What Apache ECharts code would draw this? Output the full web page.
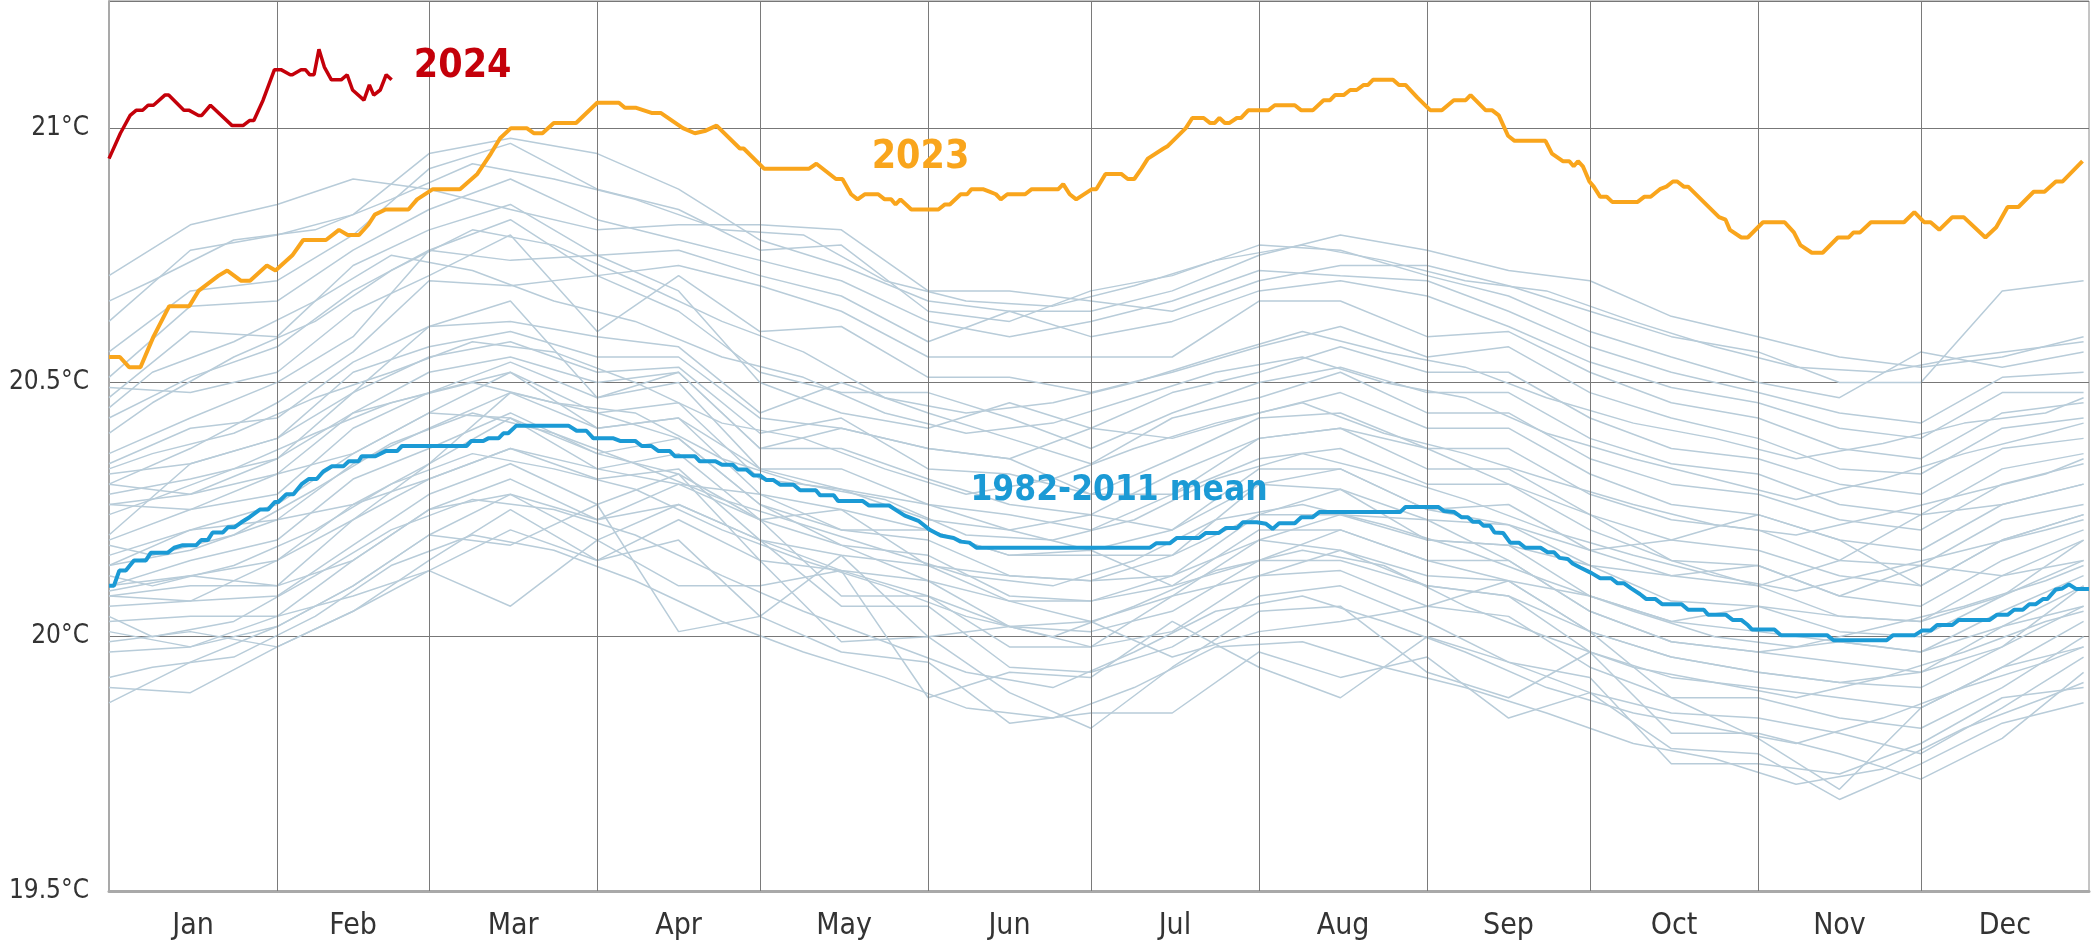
<!DOCTYPE html>
<html><head><meta charset="utf-8">
<script src="https://cdn.jsdelivr.net/npm/echarts@6/dist/echarts.min.js"></script>
<style>html,body{margin:0;padding:0;background:#fff}#c{width:2092px;height:943px}</style>
</head><body><div id="c"></div>
<script>
// ---------- axis definitions ----------
const MONTH_NAMES = ['Jan','Feb','Mar','Apr','May','Jun','Jul','Aug','Sep','Oct','Nov','Dec'];
const MONTH_STARTS = [0,31,59,90,120,151,181,212,243,273,304,334,365];
const MONTH_MIDS = [15.5,45,74.5,105,135.5,166,196.5,227.5,258,288.5,319,349.5];
const Y_TICKS = [19.5,20,20.5,21];

// ---------- gray lines (individual years), sampled at these days ----------
const GRAY_DAYS = [0,15,31,45,59,74,90,105,120,135,151,166,181,196,212,227,243,258,273,288,304,319,334,349,364];
const gray01 = [20.71,20.81,20.85,20.90,20.88,20.84,20.80,20.81,20.81,20.80,20.68,20.68,20.66,20.64,20.70,20.73,20.73,20.69,20.64,20.59,20.56,20.50,20.50,20.68,20.70];
const gray02 = [20.62,20.76,20.79,20.83,20.95,20.98,20.95,20.88,20.78,20.73,20.66,20.64,20.64,20.68,20.75,20.79,20.76,20.72,20.70,20.63,20.59,20.55,20.53,20.55,20.59];
const gray03 = [20.56,20.68,20.70,20.79,20.92,20.97,20.88,20.84,20.76,20.77,20.64,20.62,20.68,20.71,20.77,20.76,20.71,20.67,20.60,20.55,20.50,20.47,20.56,20.53,20.56];
const gray04 = [20.51,20.65,20.66,20.76,20.84,20.90,20.82,20.78,20.74,20.70,20.62,20.59,20.62,20.66,20.72,20.71,20.70,20.64,20.57,20.52,20.48,20.44,20.42,20.51,20.52];
const gray05 = [20.47,20.60,20.59,20.73,20.80,20.85,20.75,20.76,20.71,20.67,20.58,20.64,20.59,20.62,20.68,20.70,20.67,20.61,20.54,20.49,20.46,20.41,20.39,20.48,20.48];
const gray06 = [20.43,20.51,20.57,20.68,20.76,20.82,20.71,20.73,20.69,20.64,20.55,20.55,20.55,20.55,20.66,20.66,20.59,20.60,20.52,20.46,20.43,20.37,20.35,20.44,20.46];
const gray07 = [20.49,20.48,20.52,20.64,20.71,20.79,20.60,20.71,20.60,20.61,20.51,20.51,20.48,20.52,20.57,20.61,20.55,20.57,20.48,20.43,20.39,20.33,20.32,20.41,20.43];
const gray08 = [20.36,20.43,20.50,20.59,20.76,20.74,20.75,20.68,20.50,20.44,20.41,20.46,20.41,20.48,20.52,20.57,20.52,20.52,20.43,20.37,20.35,20.30,20.28,20.37,20.39];
const gray09 = [20.30,20.37,20.46,20.56,20.70,20.69,20.71,20.64,20.52,20.48,20.48,20.43,20.37,20.44,20.50,20.53,20.48,20.48,20.39,20.34,20.32,20.26,20.24,20.33,20.36];
const gray10 = [20.34,20.41,20.43,20.54,20.61,20.62,20.59,20.57,20.44,20.50,20.44,20.39,20.34,20.43,20.47,20.52,20.44,20.44,20.35,20.30,20.28,20.23,20.21,20.30,20.34];
const gray11 = [20.32,20.34,20.39,20.52,20.57,20.60,20.55,20.55,20.43,20.41,20.37,20.35,20.41,20.39,20.44,20.48,20.41,20.41,20.32,20.26,20.24,20.19,20.17,20.26,20.30];
const gray12 = [20.28,20.31,20.35,20.48,20.55,20.58,20.52,20.53,20.40,20.43,20.33,20.32,20.28,20.35,20.43,20.44,20.37,20.37,20.28,20.23,20.21,20.15,20.14,20.23,20.26];
const gray13 = [20.26,20.28,20.32,20.44,20.52,20.55,20.50,20.52,20.37,20.37,20.31,20.26,20.24,20.32,20.39,20.41,20.33,20.33,20.24,20.19,20.17,20.12,20.10,20.19,20.24];
const gray14 = [20.19,20.25,20.28,20.41,20.48,20.54,20.47,20.50,20.33,20.33,20.26,20.24,20.21,20.28,20.35,20.37,20.30,20.30,20.21,20.15,20.14,20.08,20.06,20.15,20.21];
const gray15 = [20.16,20.21,20.26,20.36,20.44,20.52,20.44,20.46,20.31,20.29,20.23,20.21,20.17,20.21,20.33,20.33,20.25,20.26,20.17,20.12,20.10,20.04,20.03,20.12,20.19];
const gray16 = [20.14,20.17,20.23,20.34,20.41,20.48,20.41,20.43,20.28,20.25,20.21,20.16,20.16,20.16,20.30,20.29,20.23,20.22,20.14,20.07,20.06,20.01,20.00,20.08,20.15];
const gray17 = [20.10,20.15,20.19,20.31,20.37,20.44,20.36,20.39,20.26,20.21,20.19,20.12,20.11,20.12,20.24,20.24,20.19,20.18,20.08,20.03,20.01,19.99,19.97,20.05,20.12];
const gray18 = [20.09,20.12,20.15,20.26,20.34,20.43,20.33,20.36,20.23,20.18,20.16,20.08,20.07,20.10,20.21,20.21,20.15,20.15,20.05,19.99,19.97,19.95,19.93,20.02,20.10];
const gray19 = [20.08,20.10,20.10,20.23,20.31,20.37,20.31,20.33,20.19,20.16,20.14,20.07,20.03,20.08,20.19,20.17,20.12,20.11,20.01,19.96,19.93,19.91,19.90,19.98,20.06];
const gray20 = [20.06,20.07,20.08,20.18,20.28,20.34,20.26,20.32,20.15,20.13,20.11,20.02,20.01,20.05,20.15,20.15,20.10,20.08,19.97,19.92,19.90,19.88,19.86,19.94,20.03];
const gray21 = [20.03,20.04,20.04,20.15,20.25,20.31,20.23,20.30,20.23,20.08,20.08,19.98,19.98,20.01,20.12,20.13,20.06,20.04,19.94,19.88,19.88,19.84,19.82,19.90,20.00];
const gray22 = [20.01,19.98,20.02,20.10,20.20,20.28,20.19,20.26,20.19,20.06,20.06,19.94,19.93,19.98,20.08,20.10,20.03,19.95,19.89,19.85,19.84,19.81,19.77,19.86,19.96];
const gray23 = [19.99,20.01,19.98,20.05,20.15,20.25,20.15,20.23,20.15,19.99,20.00,19.89,19.82,19.94,20.05,20.06,19.93,19.88,19.97,19.81,19.81,19.77,19.72,19.80,19.93];
const gray24 = [19.97,19.98,20.04,20.08,20.13,20.21,20.15,20.19,20.04,19.97,19.95,19.83,19.85,19.85,19.97,19.92,19.96,19.84,19.89,19.78,19.77,19.68,19.75,19.83,19.87];
const gray25 = [19.90,19.89,19.98,20.05,20.13,20.06,20.19,20.10,20.10,20.13,19.88,19.93,19.92,20.03,19.94,19.88,20.00,19.95,19.92,19.75,19.75,19.73,19.79,19.88,19.90];
const gray26 = [19.87,19.95,20.02,20.10,20.20,20.18,20.26,20.01,20.04,20.16,20.00,20.02,20.03,19.96,20.01,20.03,20.06,20.11,20.01,19.88,19.80,19.70,19.86,19.94,19.98];
const gray27 = [20.20,20.34,20.39,20.48,20.61,20.66,20.47,20.52,20.37,20.41,20.37,20.35,20.28,20.28,20.39,20.41,20.37,20.30,20.24,20.15,20.10,20.15,20.24,20.26,20.30];
const gray28 = [20.30,20.28,20.35,20.44,20.48,20.52,20.41,20.43,20.33,20.29,20.26,20.21,20.24,20.21,20.30,20.33,20.25,20.22,20.17,20.19,20.24,20.19,20.10,20.19,20.24];
const gray29 = [20.26,20.25,20.32,20.36,20.44,20.43,20.36,20.32,20.23,20.25,20.14,20.12,20.11,20.16,20.24,20.29,20.19,20.18,20.14,20.12,20.14,20.08,20.14,20.12,20.15];
const gray30 = [20.14,20.21,20.23,20.26,20.31,20.37,20.33,20.30,20.28,20.21,20.21,20.16,20.17,20.10,20.15,20.21,20.15,20.11,20.08,20.03,20.06,20.04,20.03,20.08,20.19];
const gray31 = [20.08,20.07,20.15,20.23,20.34,20.48,20.44,20.39,20.26,20.18,20.11,20.07,20.07,20.12,20.19,20.24,20.23,20.15,20.05,19.99,19.97,19.99,19.97,20.02,20.06];
const gray32 = [20.10,20.12,20.10,20.15,20.25,20.28,20.23,20.26,20.19,20.13,20.08,20.02,19.98,20.08,20.12,20.17,20.10,20.08,20.01,19.96,19.93,19.91,19.93,19.98,20.10];

// a second set of year lines, read at days offset from the first set
const GRAY_DAYS_B = [0,8,23,38,52,67,82,97,113,128,143,158,174,189,204,220,235,250,265,281,296,311,327,342,357,364];
const grayB1 = [20.66,20.70,20.78,20.80,20.86,20.93,20.90,20.86,20.80,20.79,20.70,20.66,20.65,20.69,20.74,20.77,20.74,20.70,20.68,20.62,20.57,20.53,20.52,20.55,20.57,20.58];
const grayB2 = [20.40,20.46,20.55,20.62,20.72,20.80,20.77,20.70,20.62,20.56,20.47,20.44,20.46,20.50,20.55,20.60,20.56,20.53,20.47,20.42,20.39,20.35,20.38,20.42,20.44,20.47];
const grayB3 = [20.33,20.36,20.40,20.47,20.52,20.58,20.56,20.50,20.42,20.39,20.33,20.28,20.31,20.37,20.42,20.46,20.40,20.36,20.31,20.26,20.22,20.20,20.24,20.28,20.32,20.35];
const grayB4 = [20.24,20.27,20.33,20.40,20.46,20.50,20.46,20.44,20.35,20.30,20.27,20.20,20.19,20.23,20.31,20.36,20.32,20.27,20.21,20.16,20.12,20.09,20.13,20.17,20.21,20.23];
const grayB5 = [20.18,20.16,20.20,20.29,20.38,20.44,20.40,20.34,20.27,20.22,20.17,20.12,20.10,20.15,20.23,20.26,20.22,20.17,20.11,20.05,20.00,19.98,20.02,20.06,20.11,20.14];
const grayB6 = [20.12,20.10,20.14,20.21,20.30,20.36,20.33,20.29,20.21,20.15,20.10,20.04,20.00,20.06,20.13,20.17,20.14,20.06,20.00,19.94,19.91,19.88,19.92,19.97,20.03,20.05];
const grayB7 = [20.04,20.00,20.03,20.12,20.21,20.27,20.25,20.20,20.12,20.05,19.99,19.93,19.90,19.97,20.05,20.08,20.03,19.97,19.90,19.85,19.82,19.79,19.84,19.90,19.95,19.98];
const grayB8 = [19.92,19.94,19.96,20.04,20.14,20.20,20.17,20.11,20.03,19.97,19.92,19.86,19.84,19.90,19.98,19.99,19.94,19.90,19.85,19.79,19.76,19.71,19.74,19.82,19.88,19.91];
const grayB9 = [20.45,20.52,20.58,20.66,20.75,20.72,20.66,20.62,20.55,20.51,20.44,20.40,20.42,20.47,20.52,20.55,20.50,20.47,20.40,20.35,20.31,20.27,20.31,20.36,20.40,20.42];

const GRAY_LINES = [gray01,gray02,gray03,gray04,gray05,gray06,gray07,gray08,gray09,gray10,gray11,gray12,gray13,gray14,gray15,gray16,gray17,gray18,gray19,gray20,gray21,gray22,gray23,gray24,gray25,gray26,gray27,gray28,gray29,gray30,gray31,gray32];
const GRAY_LINES_B = [grayB1,grayB2,grayB3,grayB4,grayB5,grayB6,grayB7,grayB8,grayB9];

// ---------- 1982-2011 mean [day, °C] ----------
const mean8211 = [[0,20.10],[0.9,20.10],[1.9,20.13],[3.1,20.13],[4.6,20.15],[6.8,20.15],[7.7,20.165],[10.8,20.165],[12,20.175],[13.6,20.18],[16.1,20.18],[17,20.19],[18.2,20.19],[19.1,20.205],[21,20.205],[21.9,20.215],[23.1,20.215],[24.4,20.225],[25.9,20.235],[27.8,20.25],[29.3,20.25],[30.6,20.265],[31.2,20.265],[32.7,20.28],[34,20.28],[35.5,20.30],[36.8,20.31],[38.3,20.31],[39.5,20.325],[41.1,20.335],[43.2,20.335],[44.2,20.345],[46,20.345],[46.6,20.355],[49.1,20.355],[51,20.365],[53.1,20.365],[54,20.375],[65.9,20.375],[66.8,20.385],[69,20.385],[69.9,20.39],[71.8,20.39],[72.7,20.40],[73.6,20.40],[75.1,20.415],[84.7,20.415],[86.2,20.405],[88,20.405],[89.3,20.39],[93,20.39],[94.2,20.385],[97,20.385],[98.2,20.375],[100,20.375],[101.3,20.365],[103.4,20.365],[104.3,20.355],[108,20.355],[108.9,20.345],[111.8,20.345],[113,20.338],[115,20.338],[115.9,20.329],[117.5,20.329],[118.8,20.317],[120,20.317],[121.2,20.308],[122.5,20.308],[123.7,20.299],[126.2,20.299],[127.4,20.288],[130.3,20.288],[131.1,20.278],[133.6,20.278],[134.4,20.267],[138.9,20.267],[140.1,20.258],[143.8,20.258],[145.1,20.249],[146.7,20.238],[149.2,20.228],[151.2,20.211],[153.3,20.199],[155.7,20.194],[157,20.187],[158.6,20.185],[159.9,20.175],[191.9,20.175],[193.1,20.184],[195.6,20.184],[196.8,20.194],[200.9,20.194],[202.2,20.204],[204.6,20.204],[205.9,20.214],[208,20.214],[209,20.225],[211.6,20.225],[213.3,20.222],[214.5,20.212],[215.7,20.223],[218.6,20.223],[219.8,20.235],[221.9,20.235],[223.1,20.245],[238,20.245],[239,20.255],[245.1,20.255],[246.1,20.247],[248,20.245],[249.3,20.235],[250.5,20.235],[251.4,20.226],[252.6,20.226],[253.4,20.218],[254.6,20.218],[255.4,20.205],[257,20.204],[258.3,20.185],[259.9,20.185],[261.1,20.175],[263.9,20.175],[265.2,20.166],[266.4,20.166],[267.4,20.155],[268.9,20.153],[269.8,20.144],[271.2,20.136],[273.3,20.125],[274.9,20.115],[276.9,20.115],[278.1,20.105],[279.3,20.105],[280.6,20.095],[282.2,20.084],[283.4,20.074],[285.1,20.074],[286.3,20.064],[289.9,20.064],[291.1,20.053],[294,20.053],[294.8,20.043],[298.1,20.043],[299.3,20.033],[300.9,20.033],[302.1,20.023],[302.9,20.014],[307,20.014],[308.2,20.003],[316.7,20.003],[317.9,19.993],[327.7,19.993],[328.9,20.003],[332.9,20.003],[334.2,20.012],[335.8,20.012],[337,20.023],[339.8,20.023],[341,20.033],[346.7,20.033],[348,20.043],[350,20.043],[351.2,20.053],[352.8,20.053],[354,20.064],[355.2,20.064],[356.5,20.074],[357.3,20.074],[358.9,20.093],[360.1,20.095],[361.3,20.103],[362.6,20.094],[365,20.094]];

// ---------- 2023 [day, °C] ----------
const sst2023 = [[0,20.55],[2,20.55],[3.7,20.53],[5.8,20.53],[8.2,20.59],[11.1,20.65],[14.8,20.65],[16.5,20.68],[20.2,20.71],[21.8,20.72],[24.3,20.70],[26,20.70],[29.1,20.73],[30.7,20.72],[33.8,20.75],[35.8,20.78],[40,20.78],[42.4,20.80],[44,20.79],[46.1,20.79],[47.8,20.81],[49,20.83],[51,20.84],[55.2,20.84],[56.8,20.86],[59.7,20.88],[64.7,20.88],[67.9,20.91],[70.4,20.95],[72.1,20.98],[74.1,21.00],[77,21.00],[78.3,20.99],[79.9,20.99],[82,21.01],[86.1,21.01],[90,21.05],[94,21.05],[95.1,21.04],[97.2,21.04],[100,21.03],[101.7,21.03],[105.8,21.00],[108,20.99],[110,20.995],[112,21.005],[116.3,20.96],[117,20.96],[120.8,20.92],[129,20.92],[130.4,20.93],[134,20.90],[135.2,20.90],[136.8,20.87],[138,20.86],[139.3,20.87],[141.8,20.87],[143,20.86],[144.2,20.86],[145,20.85],[145.9,20.86],[147.9,20.84],[152.9,20.84],[154.1,20.85],[155,20.85],[157,20.87],[158.2,20.87],[159,20.88],[161.1,20.88],[162.3,20.875],[163.5,20.87],[164.4,20.86],[165.6,20.87],[168.9,20.87],[170.1,20.88],[175,20.88],[175.9,20.89],[177.1,20.87],[178.3,20.86],[181.2,20.88],[182,20.88],[183.7,20.91],[186.6,20.91],[187.8,20.90],[189,20.90],[190.3,20.92],[191.5,20.94],[194.4,20.96],[195.2,20.965],[198.5,21.00],[199.7,21.02],[201.8,21.02],[203,21.01],[203.8,21.01],[204.7,21.02],[205.7,21.01],[206.5,21.01],[207.9,21.02],[208.7,21.02],[210,21.035],[213.7,21.035],[214.9,21.045],[218.6,21.045],[219.8,21.035],[221.9,21.035],[223.9,21.055],[225.1,21.055],[226,21.065],[227.6,21.065],[228.8,21.075],[230,21.075],[231.3,21.085],[232.1,21.085],[233,21.095],[236.7,21.095],[237.8,21.085],[239,21.085],[241.2,21.06],[243.6,21.035],[245.7,21.035],[247.9,21.055],[250.1,21.055],[251,21.065],[253.8,21.035],[255,21.035],[256.2,21.025],[257.9,20.985],[259.1,20.975],[264.8,20.975],[266,20.95],[268,20.935],[269.2,20.935],[270,20.925],[270.8,20.935],[271.7,20.925],[272.9,20.895],[273.7,20.885],[274.9,20.865],[276.1,20.865],[277.1,20.855],[281.8,20.855],[283,20.865],[284.2,20.865],[285.9,20.88],[287.1,20.885],[288.3,20.895],[289.1,20.895],[290.3,20.885],[291.1,20.885],[296.8,20.825],[298,20.82],[298.8,20.80],[300.9,20.785],[302.1,20.785],[304.9,20.815],[308.9,20.815],[310.6,20.795],[311.8,20.77],[313.9,20.755],[315.9,20.755],[318.7,20.785],[320.7,20.785],[321.6,20.795],[322.8,20.795],[324.8,20.815],[330.9,20.815],[332.8,20.835],[334.6,20.815],[335.8,20.815],[337.4,20.80],[339.8,20.825],[341.9,20.825],[345.9,20.785],[347.9,20.805],[350,20.845],[352,20.845],[354.8,20.875],[356.8,20.875],[358.9,20.895],[360.1,20.895],[363.8,20.935]];

// ---------- 2024 [day, °C] ----------
const sst2024 = [[0,20.94],[2.1,20.99],[3.9,21.025],[5,21.035],[6.2,21.035],[7.2,21.045],[8.2,21.045],[10.3,21.065],[11,21.065],[13.8,21.035],[14.8,21.035],[16.5,21.025],[17.1,21.025],[18.7,21.045],[22.7,21.005],[24.7,21.005],[25.9,21.015],[26.7,21.015],[28.4,21.055],[30.5,21.115],[31.7,21.115],[33.4,21.105],[33.8,21.105],[35.4,21.115],[36.2,21.115],[37,21.105],[37.8,21.105],[38.7,21.155],[39.7,21.12],[41,21.095],[42.8,21.095],[43.9,21.105],[44.9,21.075],[47,21.055],[48,21.085],[48.8,21.065],[50,21.075],[51.1,21.105],[52.1,21.095]];

// ---------- annotation anchors [day, °C] ----------
const LABEL_2024 = {text:'2024', at:[56.2, 21.12]};
const LABEL_2023 = {text:'2023', at:[149.6, 20.942]};
const LABEL_MEAN = {text:'1982-2011 mean', at:[158.8, 20.287]};

const FONT = '"DejaVu Sans Condensed","Liberation Sans Narrow","Roboto","Noto Sans",sans-serif';
const C_GRAY = '#b8ccd9', C_MEAN = '#1b9ad5', C_2023 = '#f9a51c', C_2024 = '#c4000a';

const chart = echarts.init(document.getElementById('c'), null, {renderer:'canvas'});

const series = [];
const pushGray = (days, vals, withMonthLines) => {
  series.push({
    type:'line', silent:true, symbol:'none', z:2,
    data: vals.map((v, k) => [days[k], v]),
    lineStyle:{color:C_GRAY, width:1.5},
    markLine: withMonthLines ? {
      silent:true, symbol:'none', label:{show:false},
      lineStyle:{color:'#7a7a7a', width:1, type:'solid'},
      data: MONTH_STARTS.slice(1, 12).map(d => ({xAxis:d}))
    } : undefined
  });
};
GRAY_LINES.forEach((vals, i) => pushGray(GRAY_DAYS, vals, i === 0));
GRAY_LINES_B.forEach(vals => pushGray(GRAY_DAYS_B, vals, false));
series.push({type:'line', silent:true, symbol:'none', z:5, data:mean8211, lineStyle:{color:C_MEAN, width:4}});
series.push({type:'line', silent:true, symbol:'none', z:6, data:sst2023, lineStyle:{color:C_2023, width:4}});
series.push({type:'line', silent:true, symbol:'none', z:7, data:sst2024, lineStyle:{color:C_2024, width:3.5}});

chart.setOption({
  animation:false,
  backgroundColor:'#ffffff',
  grid:{left:109, right:3, top:1, bottom:52, show:true, borderColor:'#8a8a8a', borderWidth:1, containLabel:false},
  xAxis:{
    type:'value', min:0, max:365,
    axisLine:{show:true, lineStyle:{color:'#a9a9a9', width:3}},
    axisTick:{show:false},
    splitLine:{show:false},
    axisLabel:{
      customValues: MONTH_MIDS,
      formatter: v => { const i = MONTH_MIDS.indexOf(v); return i >= 0 ? MONTH_NAMES[i] : ''; },
      color:'#333', fontSize:30, fontFamily:FONT, margin:20
    }
  },
  yAxis:{
    type:'value', min:19.5, max:21.25, interval:0.5,
    axisLine:{show:true, lineStyle:{color:'#a9a9a9', width:2}},
    axisTick:{show:false},
    splitLine:{show:true, lineStyle:{color:'#777777', width:1}},
    axisLabel:{
      formatter: v => (Y_TICKS.some(t => Math.abs(t - v) < 1e-6) ? (v + '°C') : ''),
      color:'#333', fontSize:26, fontFamily:FONT, margin:20
    }
  },
  series
});

function addLabels(){
  const mk = (lab, color, size, align) => {
    const p = chart.convertToPixel({gridIndex:0}, lab.at);
    return {type:'text', x:p[0], y:p[1], z:100, silent:true,
      style:{text:lab.text, fill:color, font:'bold ' + size + 'px ' + FONT, textAlign:align, textVerticalAlign:'middle'}};
  };
  chart.setOption({graphic:[
    mk(LABEL_2024, C_2024, 39, 'left'),
    mk(LABEL_2023, C_2023, 39, 'center'),
    mk(LABEL_MEAN, C_MEAN, 35, 'left')
  ]});
}
addLabels();
</script>
</body></html>
